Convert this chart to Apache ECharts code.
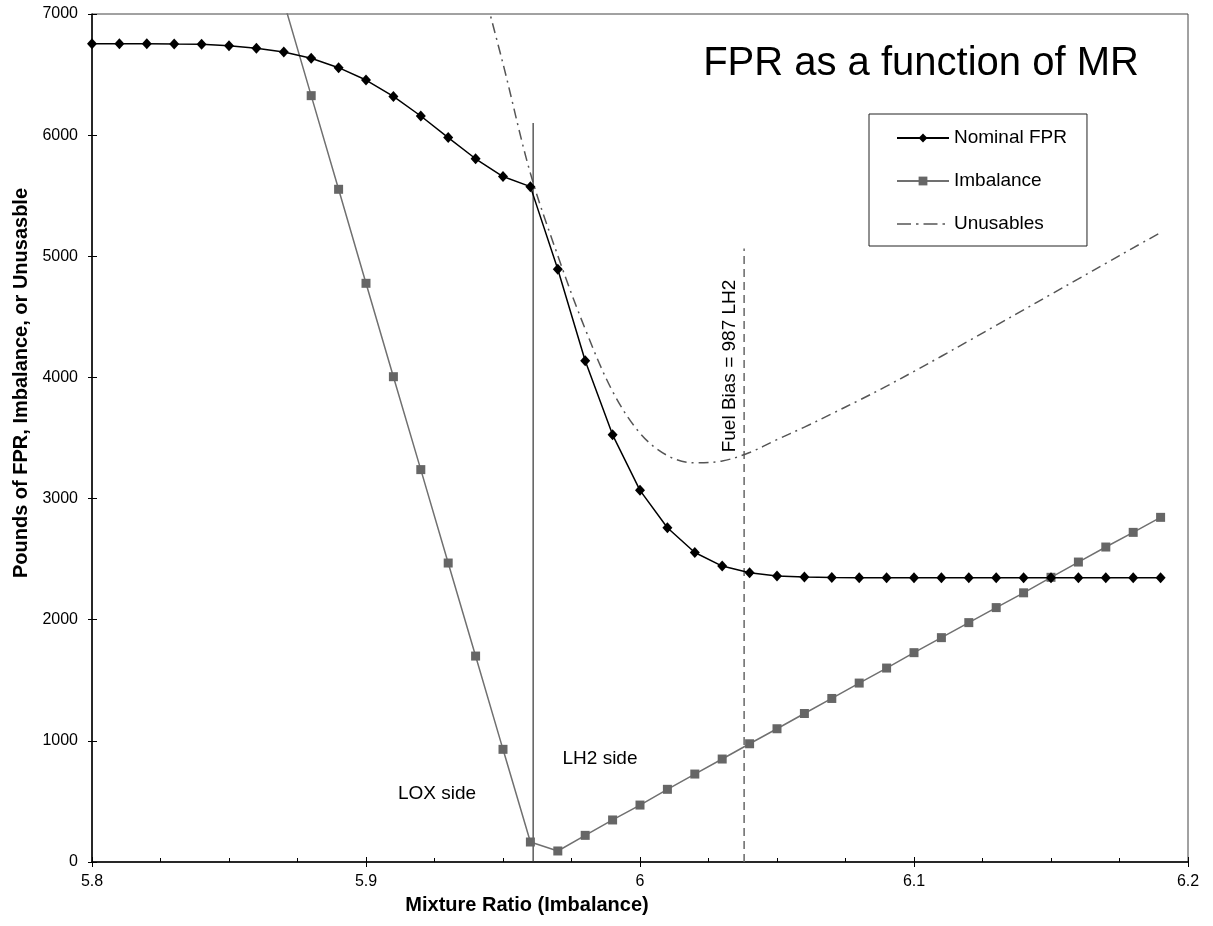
<!DOCTYPE html>
<html>
<head>
<meta charset="utf-8">
<script src="https://cdn.jsdelivr.net/npm/echarts@6/dist/echarts.min.js"></script>
<style>
  html, body { margin: 0; padding: 0; background: #fff; }
  #chart { width: 1213px; height: 926px; }
</style>
</head>
<body>
<div id="chart"></div>
<script>
// ---- data ----
const mrNominal = [5.80,5.81,5.82,5.83,5.84,5.85,5.86,5.87,5.88,5.89,5.90,5.91,5.92,5.93,5.94,5.95,5.96,5.97,5.98,5.99,
                   6.00,6.01,6.02,6.03,6.04,6.05,6.06,6.07,6.08,6.09,6.10,6.11,6.12,6.13,6.14,6.15,6.16,6.17,6.18,6.19];
const nominalFPR = [6755,6755,6755,6752,6750,6738,6718,6687,6635,6557,6455,6320,6158,5980,5805,5658,5575,4893,4137,3526,
                    3068,2759,2555,2443,2388,2361,2353,2348,2347,2347,2347,2347,2347,2347,2347,2347,2347,2347,2347,2347];

const mrImbalance = [5.87,5.88,5.89,5.90,5.91,5.92,5.93,5.94,5.95,5.96,5.97,5.98,5.99,
                     6.00,6.01,6.02,6.03,6.04,6.05,6.06,6.07,6.08,6.09,6.10,6.11,6.12,6.13,6.14,6.15,6.16,6.17,6.18,6.19];
const imbalance = [7100,6326,5553,4777,4006,3239,2468,1700,930,165,91,220,347,
                   470,600,726,850,976,1100,1226,1350,1477,1601,1728,1852,1976,2100,2222,2350,2476,2600,2721,2845];

const mrUnusable = [5.94,5.95,5.96,5.97,5.98,5.99,6.00,6.01,6.02,6.03,6.04,6.05,6.06,6.07,6.08,6.09,
                    6.10,6.11,6.12,6.13,6.14,6.15,6.16,6.17,6.18,6.19];
const unusables = [7450,6590,5685,5005,4400,3885,3540,3355,3295,3310,3380,3487,3590,3700,3812,3928,
                   4050,4175,4302,4430,4558,4686,4814,4942,5070,5195];

const sideDivider = [[5.961, 0], [5.961, 6100]];
const fuelBiasLine = [[6.038, 0], [6.038, 5065]];

const xTicks = { min: 5.8, max: 6.2, interval: 0.1 };
const yTicks = { min: 0, max: 7000, interval: 1000 };

const titleText = 'FPR as a function of MR';
const xTitle = 'Mixture Ratio (Imbalance)';
const yTitle = 'Pounds of FPR, Imbalance, or Unusasble';

// ---- build ----
const zip = (xs, ys) => xs.map((x, i) => [x, ys[i]]);
const FONT = 'Liberation Sans, Arial, sans-serif';

const chart = echarts.init(document.getElementById('chart'), null, { renderer: 'canvas' });

const gridBox = { left: 92, right: 25, top: 14, bottom: 64 };
const dashDotIcon = 'path://M0,0 H14 V1.6 H0 Z M19,0 H21.5 V1.6 H19 Z M26.5,0 H40.5 V1.6 H26.5 Z M45.5,0 H48 V1.6 H45.5 Z M52,0 H52 V1.6 H52 Z';

chart.setOption({
  animation: false,
  backgroundColor: '#fff',
  textStyle: { fontFamily: FONT },
  grid: Object.assign({ show: true, borderColor: '#444', borderWidth: 1, backgroundColor: '#fff' }, gridBox),
  legend: {
    orient: 'vertical',
    left: 869, top: 114,
    padding: [14, 20, 12, 27],
    borderColor: '#222', borderWidth: 1,
    itemWidth: 52, itemHeight: 11, itemGap: 23,
    textStyle: { fontSize: 19, lineHeight: 20, color: '#000', fontFamily: FONT },
    data: ['Nominal FPR', 'Imbalance', { name: 'Unusables', icon: dashDotIcon, itemStyle: { color: '#555' } }]
  },
  xAxis: [{
    type: 'value', min: xTicks.min, max: xTicks.max, interval: xTicks.interval,
    axisLine: { show: true, onZero: false, lineStyle: { color: '#000', width: 1.5 } },
    axisTick: { show: true, inside: false, length: 5, lineStyle: { color: '#000' } },
    minorTick: { show: false },
    axisLabel: { margin: 12, fontSize: 16, color: '#000', fontFamily: FONT,
                 formatter: v => String(+v.toFixed(1)) },
    splitLine: { show: false }
  }, {
    type: 'value', min: xTicks.min, max: xTicks.max, interval: xTicks.interval, position: 'bottom', offset: 0,
    axisLine: { show: false },
    axisTick: { show: true, inside: true, length: 5, lineStyle: { color: '#000' } },
    minorTick: { show: true, splitNumber: 4, length: 4, lineStyle: { color: '#000' } },
    axisLabel: { show: false },
    splitLine: { show: false }
  }],
  yAxis: [{
    type: 'value', min: yTicks.min, max: yTicks.max, interval: yTicks.interval,
    axisLine: { show: true, onZero: false, lineStyle: { color: '#000', width: 1.5 } },
    axisTick: { show: true, inside: false, length: 4, lineStyle: { color: '#000' } },
    axisLabel: { margin: 14, fontSize: 16, color: '#000', fontFamily: FONT, formatter: v => String(v) },
    splitLine: { show: false }
  }, {
    type: 'value', min: yTicks.min, max: yTicks.max, interval: yTicks.interval, position: 'left', offset: 0,
    axisLine: { show: false },
    axisTick: { show: true, inside: true, length: 5, lineStyle: { color: '#000' } },
    axisLabel: { show: false },
    splitLine: { show: false }
  }],
  graphic: [
    { type: 'text', x: 921, y: 64, style: { text: titleText, font: '40px ' + FONT, fill: '#000', textAlign: 'center', textVerticalAlign: 'middle' } },
    { type: 'text', x: 527, y: 905, style: { text: xTitle, font: 'bold 20px ' + FONT, fill: '#000', textAlign: 'center', textVerticalAlign: 'middle' } },
    { type: 'text', x: 21, y: 383, rotation: Math.PI / 2, style: { text: yTitle, font: 'bold 20px ' + FONT, fill: '#000', textAlign: 'center', textVerticalAlign: 'middle' } },
    { type: 'text', x: 437, y: 794, style: { text: 'LOX side', font: '19px ' + FONT, fill: '#000', textAlign: 'center', textVerticalAlign: 'middle' } },
    { type: 'text', x: 600, y: 759, style: { text: 'LH2 side', font: '19px ' + FONT, fill: '#000', textAlign: 'center', textVerticalAlign: 'middle' } },
    { type: 'text', x: 730, y: 366, rotation: Math.PI / 2, style: { text: 'Fuel Bias = 987 LH2', font: '19px ' + FONT, fill: '#000', textAlign: 'center', textVerticalAlign: 'middle' } }
  ],
  series: [
    {
      name: 'Divider', type: 'line', data: sideDivider, symbol: 'none', silent: true,
      lineStyle: { color: '#333', width: 1.2 }, z: 1
    },
    {
      name: 'Fuel Bias', type: 'line', data: fuelBiasLine, symbol: 'none', silent: true,
      lineStyle: { color: '#666', width: 1.5, type: [8, 5] }, z: 1
    },
    {
      name: 'Unusables', type: 'line', data: zip(mrUnusable, unusables), symbol: 'none',
      smooth: 0.35, clip: true,
      lineStyle: { color: '#555', width: 1.5, type: [10, 5, 2, 5] },
      itemStyle: { color: '#555' }, z: 2
    },
    {
      name: 'Imbalance', type: 'line', data: zip(mrImbalance, imbalance), clip: true,
      symbol: 'rect', symbolSize: 9,
      lineStyle: { color: '#707070', width: 1.5 },
      itemStyle: { color: '#666' }, z: 3
    },
    {
      name: 'Nominal FPR', type: 'line', data: zip(mrNominal, nominalFPR), clip: true,
      symbol: 'diamond', symbolSize: [10, 11],
      lineStyle: { color: '#000', width: 1.5 },
      itemStyle: { color: '#000' }, z: 4
    }
  ]
});
</script>
</body>
</html>
